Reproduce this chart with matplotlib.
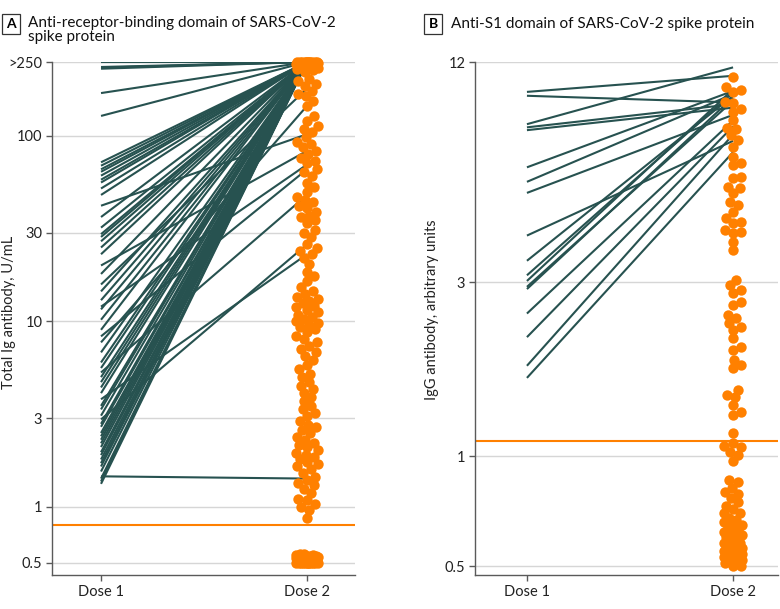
import numpy as np
import matplotlib
matplotlib.use('Agg')
import matplotlib.pyplot as plt
from matplotlib.ticker import NullLocator

plt.rcParams['font.family'] = ['Lato', 'DejaVu Sans']

# 데이터 (A: anti-RBD, B: anti-S1)
doses = ['Dose 1', 'Dose 2']

a_dose1 = [250, 250, 235, 233, 230, 170, 128, 72, 69, 66, 64, 61, 58, 56, 52, 48, 42, 36.5, 32,
           29.5, 28.5, 27, 25, 23, 20, 18, 15.8, 14.5, 13, 12, 11.6, 10.2, 9, 8.3, 7.7, 6.8, 6.0,
           5.6, 5.3, 5.0, 4.7, 4.4, 4.1, 3.8, 3.5, 3.35, 3.1, 2.96, 2.8, 2.7, 2.5, 2.4, 2.3, 2.2,
           2.1, 1.97, 1.9, 1.8, 1.72, 1.65, 1.55, 1.46, 1.42, 1.37, 1.33]
a_dose2 = [250, 250, 250, 250, 250, 250, 250, 250, 250, 250, 250, 250, 250, 250, 250, 250, 102, 250, 250,
           250, 250, 250, 250, 250, 83, 250, 180, 250, 250, 70, 250, 250, 250, 66, 145, 250, 250,
           250, 48, 250, 250, 250, 250, 23, 250, 250, 250, 26, 250, 250, 250, 250, 250, 250,
           250, 250, 250, 250, 250, 250, 250, 1.42, 250, 250, 250]

a_dots = [250, 250, 250, 250, 250, 250, 250, 250, 250, 250, 250, 250, 248, 248, 246, 246, 245, 244,
          243, 242, 240, 240, 238, 236, 235, 233, 231, 229, 226, 222,
          203, 198, 191, 186, 175, 169, 163, 155, 145, 128, 120, 113, 109, 105, 98, 93, 90, 87, 83,
          80, 76, 73, 71, 66, 64, 61, 56, 53, 50, 47, 45, 44, 42, 41, 39, 37, 36.5, 35, 34, 31,
          30, 28.4, 26, 25, 24, 23, 22, 20.3, 18.4, 17.5, 16.4, 15.3, 14.5, 14.0, 13.5, 13.2,
          12.8, 12.5, 12.1, 11.9, 11.5, 11.2, 10.8, 10.5, 10.3, 10.0, 9.8, 9.6, 9.3, 9.1, 8.8,
          8.3, 8.0, 7.7, 7.4, 7.1, 6.8, 6.5, 6.2, 5.8, 5.5, 5.2, 5.0, 4.7, 4.5, 4.3, 4.1, 3.9,
          3.7, 3.5, 3.35, 3.2, 3.07, 2.9, 2.77, 2.7, 2.61, 2.5, 2.39, 2.3, 2.22, 2.15, 2.1, 2.03,
          1.95, 1.9, 1.86, 1.8, 1.75, 1.7, 1.65, 1.6, 1.53, 1.45, 1.40, 1.35, 1.31, 1.25, 1.19,
          1.1, 1.09, 1.03, 1.0, 0.96, 0.87,
          0.56, 0.555, 0.55, 0.55, 0.545, 0.545, 0.54, 0.54, 0.535, 0.535, 0.53, 0.53, 0.525,
          0.525, 0.52, 0.52, 0.515, 0.515, 0.51, 0.51, 0.51, 0.505, 0.505, 0.505, 0.50, 0.50,
          0.50, 0.50, 0.50, 0.50, 0.50, 0.50, 0.50, 0.50, 0.50, 0.50]

b_dose1 = [9.94, 9.70, 8.11, 7.95, 7.81, 6.18, 5.64, 5.26, 4.02, 3.43, 3.13, 3.02, 2.91, 2.87,
           2.46, 2.12, 1.77, 1.64]
b_dose2 = [11.0, 9.3, 11.6, 9.2, 9.0, 10.0, 9.8, 8.6, 7.3, 9.7, 9.9, 10.1, 9.4, 9.6,
           8.3, 8.0, 7.6, 6.8]

b_dots = [10.93, 10.26, 10.05, 9.94, 9.33, 9.26, 8.95, 8.77, 8.32, 7.91, 7.88, 7.57, 7.34, 7.04,
          6.61, 6.34, 6.27, 5.82, 5.78, 5.47, 5.42, 5.25, 4.98, 4.87, 4.67, 4.49, 4.38, 4.35,
          4.16, 4.12, 4.08, 3.86, 3.67,
          3.04, 2.94, 2.85, 2.80, 2.64, 2.60, 2.44, 2.39, 2.32, 2.26, 2.22, 2.11, 1.99, 1.95,
          1.84, 1.78, 1.75, 1.52, 1.47, 1.45, 1.38, 1.32, 1.30, 1.16, 1.09, 1.07, 1.06, 1.03,
          1.01, 0.97,
          0.86, 0.85, 0.82, 0.80, 0.79, 0.77, 0.75, 0.73, 0.72, 0.70, 0.70, 0.68, 0.67, 0.66,
          0.65, 0.64, 0.64, 0.63, 0.62, 0.62, 0.61, 0.60, 0.60, 0.59, 0.58, 0.58, 0.57, 0.56,
          0.56, 0.55, 0.55, 0.54, 0.54, 0.53, 0.53, 0.52, 0.52, 0.51, 0.51, 0.50, 0.50]

a_ticks = [0.5, 1, 3, 10, 30, 100, 250]
a_ticklabels = ['0.5', '1', '3', '10', '30', '100', '>250']
b_ticks = [0.5, 1, 3, 12]
b_ticklabels = ['0.5', '1', '3', '12']
a_cutoff = 0.8
b_cutoff = 1.1

LINE = '#275250'
ORANGE = '#ff8000'
GRID = '#d6d6d6'
SPINE = '#5a5a5a'


def swarm_x(ax, values, xc, half_width, diam):
    # 겹침을 줄이는 간단한 beeswarm (픽셀 단위)
    pts = np.column_stack([np.full(len(values), xc), values])
    disp = ax.transData.transform(pts)
    x0, ys = disp[0, 0], disp[:, 1]
    cands = [0.0]
    k = 1
    while k <= half_width:
        cands += [float(k), float(-k)]
        k += 1
    placed = []
    offs = np.zeros(len(values))
    for i in np.argsort(ys):
        best, best_d = 0.0, -1.0
        for c in cands:
            d = min([np.hypot(c - px, ys[i] - py) for px, py in placed], default=1e9)
            if d >= diam:
                best = c
                break
            if d > best_d:
                best, best_d = c, d
        offs[i] = best
        placed.append((best, ys[i]))
    back = ax.transData.inverted().transform(np.column_stack([x0 + offs, ys]))
    return back[:, 0]


def panel(ax, d1, d2, dots, ticks, ticklabels, ylim, xlim, cutoff, half_width):
    ax.set_yscale('log')
    ax.set_ylim(*ylim)
    ax.set_xlim(*xlim)
    for t in ticks:
        ax.axhline(t, color=GRID, lw=1, zorder=0)
    ax.axhline(cutoff, color=ORANGE, lw=1.5, zorder=1)
    for v1, v2 in zip(d1, d2):
        ax.plot([0, 1], [v1, v2], color=LINE, lw=1.5, zorder=2, solid_capstyle='butt')
    xs = swarm_x(ax, dots, 1, half_width, 8.0)
    ax.scatter(xs, dots, s=56, color=ORANGE, linewidths=0, zorder=3, clip_on=False)
    ax.set_yticks(ticks)
    ax.set_yticklabels(ticklabels)
    ax.yaxis.set_minor_locator(NullLocator())
    ax.set_xticks([0, 1])
    ax.set_xticklabels(doses)
    for s in ['top', 'right']:
        ax.spines[s].set_visible(False)
    for s in ['left', 'bottom']:
        ax.spines[s].set_color(SPINE)
        ax.spines[s].set_linewidth(1)
    ax.tick_params(axis='both', length=4, width=1, color=SPINE, labelsize=10.5,
                   labelcolor='#222222', pad=3)


fig = plt.figure(figsize=(7.8, 6.09), dpi=100)
ax_a = fig.add_axes([52 / 780, 34 / 609, 303 / 780, 513 / 609])
ax_b = fig.add_axes([475 / 780, 34 / 609, 303 / 780, 513 / 609])

panel(ax_a, a_dose1, a_dose2, a_dots, a_ticks, a_ticklabels, (0.429, 250), (-0.238, 1.233),
      a_cutoff, 11)
panel(ax_b, b_dose1, b_dose2, b_dots, b_ticks, b_ticklabels, (0.4737, 12), (-0.252, 1.218),
      b_cutoff, 9)

# 제목, 축 라벨
box = dict(boxstyle='square,pad=0.3', fc='white', ec='#333333', lw=0.9)
fig.text(11 / 780, 1 - 24 / 609, 'A', fontsize=10, fontweight='bold', ha='center', va='center',
         bbox=box)
fig.text(28 / 780, 1 - 16 / 609, 'Anti-receptor-binding domain of SARS-CoV-2\nspike protein',
         fontsize=11, ha='left', va='top', linespacing=1.0, color='#111111')
fig.text(433 / 780, 1 - 24 / 609, 'B', fontsize=10, fontweight='bold', ha='center', va='center',
         bbox=box)
fig.text(451 / 780, 1 - 24 / 609, 'Anti-S1 domain of SARS-CoV-2 spike protein',
         fontsize=11, ha='left', va='center', color='#111111')

fig.text(9 / 780, 1 - 312 / 609, 'Total Ig antibody, U/mL', rotation=90, ha='center',
         va='center', fontsize=10.5, color='#222222')
fig.text(432 / 780, 1 - 310 / 609, 'IgG antibody, arbitrary units', rotation=90, ha='center',
         va='center', fontsize=10.5, color='#222222')

fig.savefig('out.png', dpi=100)
